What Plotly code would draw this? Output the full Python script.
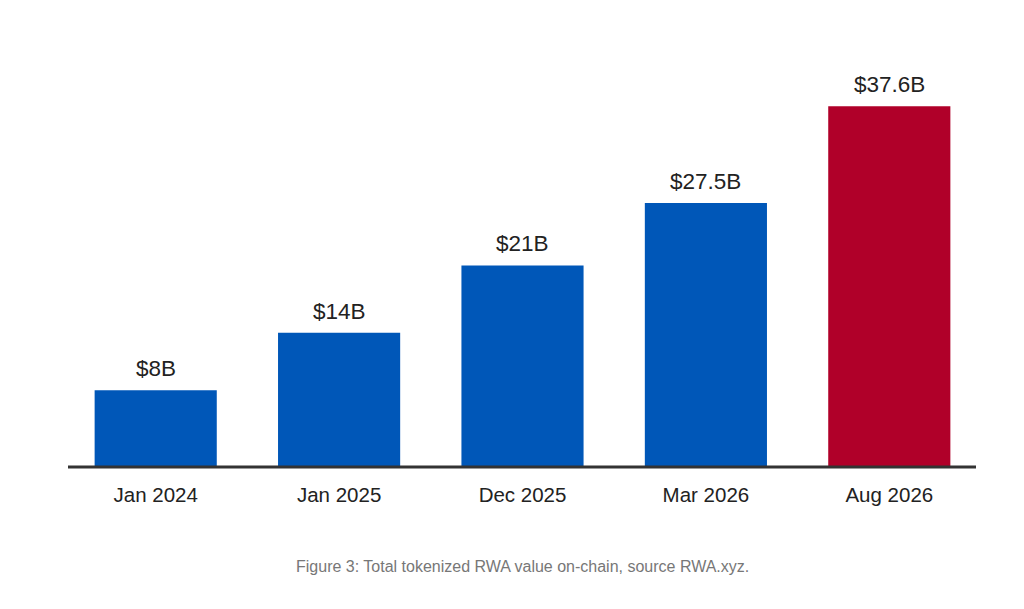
import plotly.graph_objects as go

# data
periods = ["Jan 2024", "Jan 2025", "Dec 2025", "Mar 2026", "Aug 2026"]
values = [8, 14, 21, 27.5, 37.6]
labels = ["$8B", "$14B", "$21B", "$27.5B", "$37.6B"]
colors = ["#0057B8", "#0057B8", "#0057B8", "#0057B8", "#B00029"]

fig = go.Figure()
fig.add_trace(go.Bar(
    x=periods,
    y=values,
    marker=dict(color=colors, line=dict(width=0)),
    hoverinfo="skip",
))

# value labels above the bars
for p, v, t in zip(periods, values, labels):
    fig.add_annotation(x=p, y=v, text=t, showarrow=False,
                       yanchor="bottom", yshift=7,
                       font=dict(size=22.5, color="#222222"))

# caption
fig.add_annotation(x=0.5, y=-0.232, xref="paper", yref="paper",
                   text="Figure 3: Total tokenized RWA value on-chain, source RWA.xyz.",
                   showarrow=False, yanchor="middle",
                   font=dict(size=16, color="#777777"))

# baseline (paper refs so it is not clipped at the plot edge)
fig.add_shape(type="line", xref="paper", yref="paper",
              x0=4 / 917, x1=912 / 917, y0=0, y1=0,
              line=dict(color="#333333", width=3))

fig.update_layout(
    width=1024, height=609,
    margin=dict(l=56, r=51, t=32, b=150),
    paper_bgcolor="white", plot_bgcolor="white",
    font=dict(family="Liberation Sans, Arial, sans-serif", color="#222222"),
    bargap=0.334,
    showlegend=False,
    xaxis=dict(showline=False, showgrid=False, ticks="",
               tickfont=dict(size=20.5, color="#222222"),
               ticklabelstandoff=13),
    yaxis=dict(range=[0, 44.5], visible=False, showgrid=False, zeroline=False),
)

fig.write_html("out.html")
